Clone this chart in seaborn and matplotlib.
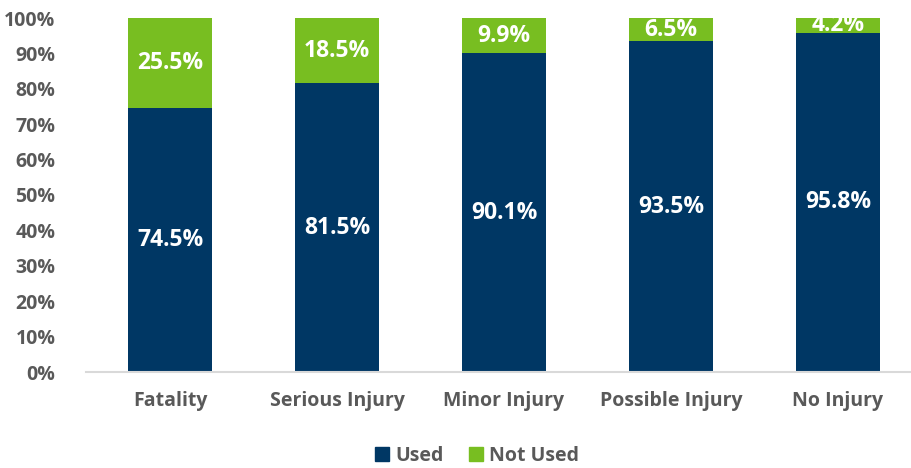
import matplotlib
matplotlib.use("Agg")
import matplotlib.pyplot as plt
from matplotlib.patches import Patch
import seaborn as sns
import pandas as pd

categories = ["Fatality", "Serious Injury", "Minor Injury", "Possible Injury", "No Injury"]
used = [74.5, 81.5, 90.1, 93.5, 95.8]
not_used = [25.5, 18.5, 9.9, 6.5, 4.2]
y_ticks = [0, 10, 20, 30, 40, 50, 60, 70, 80, 90, 100]

NAVY = "#003764"
GREEN = "#78BE21"
GRAY = "#595959"

sns.set_theme(style="white")
plt.rcParams["font.family"] = ["Open Sans", "DejaVu Sans"]

df = pd.DataFrame({
    "category": categories,
    "used": used,
    "not_used": not_used,
})
df["total"] = df["used"] + df["not_used"]

fig = plt.figure(figsize=(9.12, 4.68), dpi=100)
ax = fig.add_axes([86 / 912, 1 - 372 / 468, 826 / 912, 354 / 468])

# stacked bars: full-height green first, navy "used" part on top of it
sns.barplot(data=df, x="category", y="total", color=GREEN, width=0.503,
            saturation=1, ax=ax, linewidth=0)
sns.barplot(data=df, x="category", y="used", color=NAVY, width=0.503,
            saturation=1, ax=ax, linewidth=0)

for i, (u, n) in enumerate(zip(used, not_used)):
    ax.text(i, u / 2, f"{u:.1f}%", ha="center", va="center",
            color="white", fontsize=16.5, fontweight="bold")
    ax.text(i, u + n / 2, f"{n:.1f}%", ha="center", va="center",
            color="white", fontsize=16.5, fontweight="bold")

ax.set_xlim(-0.503, 4.443)
ax.set_ylim(0, 100)
ax.set_yticks(y_ticks)
ax.set_yticklabels([f"{t}%" for t in y_ticks])
ax.set_xlabel("")
ax.set_ylabel("")

for lbl in ax.get_yticklabels() + ax.get_xticklabels():
    lbl.set_fontweight("bold")
    lbl.set_color(GRAY)
    lbl.set_fontsize(14)
ax.tick_params(axis="y", length=0, pad=22)
ax.tick_params(axis="x", length=0, pad=14)

for side in ["top", "right", "left"]:
    ax.spines[side].set_visible(False)
ax.spines["bottom"].set_color("#D9D9D9")
ax.spines["bottom"].set_linewidth(1.5)
ax.grid(False)

handles = [Patch(color=NAVY, label="Used"), Patch(color=GREEN, label="Not Used")]
leg = fig.legend(handles=handles, loc="center", bbox_to_anchor=(477 / 912, 1 - 456 / 468),
                 ncol=2, frameon=False, handlelength=0.75, handleheight=0.75,
                 handletextpad=0.3, columnspacing=1.3,
                 prop={"weight": "bold", "size": 14})
for t in leg.get_texts():
    t.set_color(GRAY)

fig.savefig("out.png", dpi=100)
